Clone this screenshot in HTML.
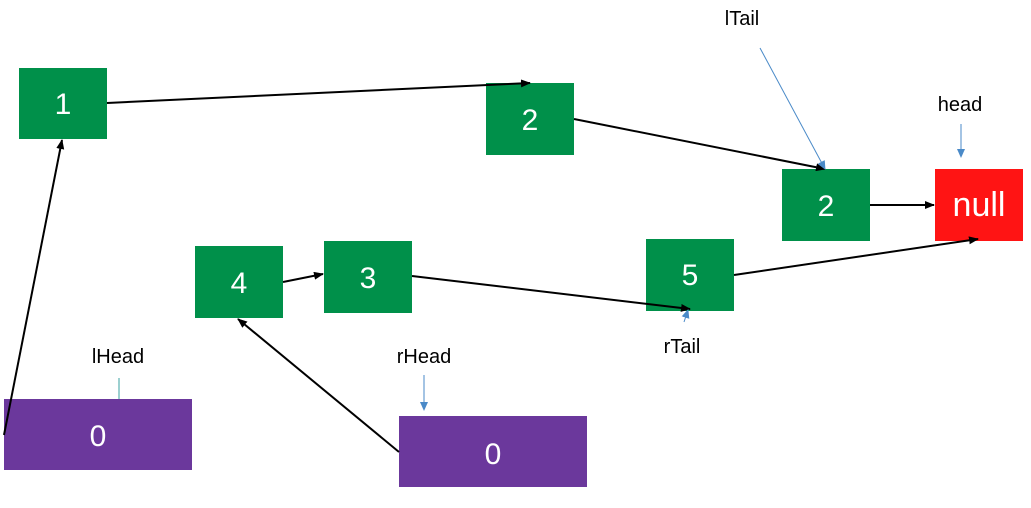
<!DOCTYPE html>
<html><head><meta charset="utf-8"><style>
html,body{margin:0;padding:0;background:#fff;}
svg{display:block;}
text{font-family:"Liberation Sans",sans-serif;}
</style></head><body>
<svg width="1031" height="508" viewBox="0 0 1031 508">
<defs>
<marker id="ab" markerWidth="10" markerHeight="8" refX="9" refY="4" orient="auto" markerUnits="userSpaceOnUse"><path d="M0,0 L10,4 L0,8 z" fill="#000"/></marker>
<marker id="abl" markerWidth="9" markerHeight="8" refX="8" refY="4" orient="auto" markerUnits="userSpaceOnUse"><path d="M0,0 L9,4 L0,8 z" fill="#4a8ac8"/></marker>
</defs>
<g fill="#00904a">
<rect x="19" y="68" width="88" height="71"/>
<rect x="486" y="83" width="88" height="72"/>
<rect x="782" y="169" width="88" height="72"/>
<rect x="195" y="246" width="88" height="72"/>
<rect x="324" y="241" width="88" height="72"/>
<rect x="646" y="239" width="88" height="72"/>
</g>
<rect x="935" y="169" width="88" height="72" fill="#ff1414"/>
<rect x="4" y="399" width="188" height="71" fill="#6b389c"/>
<rect x="399" y="416" width="188" height="71" fill="#6b389c"/>
<g fill="#fff" font-size="30" text-anchor="middle">
<text x="63" y="114">1</text>
<text x="530" y="130">2</text>
<text x="826" y="216">2</text>
<text x="239" y="293">4</text>
<text x="368" y="288">3</text>
<text x="690" y="285">5</text>
<text x="979" y="216" font-size="34">null</text>
<text x="98" y="446">0</text>
<text x="493" y="464">0</text>
</g>
<g stroke="#000" stroke-width="2" fill="none" marker-end="url(#ab)">
<line x1="4" y1="435" x2="62" y2="140"/>
<line x1="107" y1="103" x2="530" y2="83"/>
<line x1="574" y1="119" x2="825" y2="169"/>
<line x1="870" y1="205" x2="934" y2="205"/>
<line x1="283" y1="282" x2="323" y2="274"/>
<line x1="412" y1="276" x2="690" y2="309"/>
<line x1="734" y1="275" x2="978" y2="239"/>
<line x1="399" y1="452" x2="238" y2="319"/>
</g>
<g stroke="#4a8ac8" stroke-width="1" fill="none">
<line x1="760" y1="48" x2="825" y2="169" marker-end="url(#abl)"/>
<line x1="961" y1="124" x2="961" y2="157" marker-end="url(#abl)"/>
<line x1="684" y1="322" x2="688" y2="310" marker-end="url(#abl)"/>
<line x1="424" y1="375" x2="424" y2="410" marker-end="url(#abl)"/>
<line x1="119" y1="378" x2="119" y2="399" stroke="#3aa0a0"/>
</g>
<g fill="#000" font-size="20" text-anchor="middle">
<text x="742" y="25">lTail</text>
<text x="960" y="111">head</text>
<text x="682" y="353">rTail</text>
<text x="118" y="363">lHead</text>
<text x="424" y="363">rHead</text>
</g>
</svg>
</body></html>
